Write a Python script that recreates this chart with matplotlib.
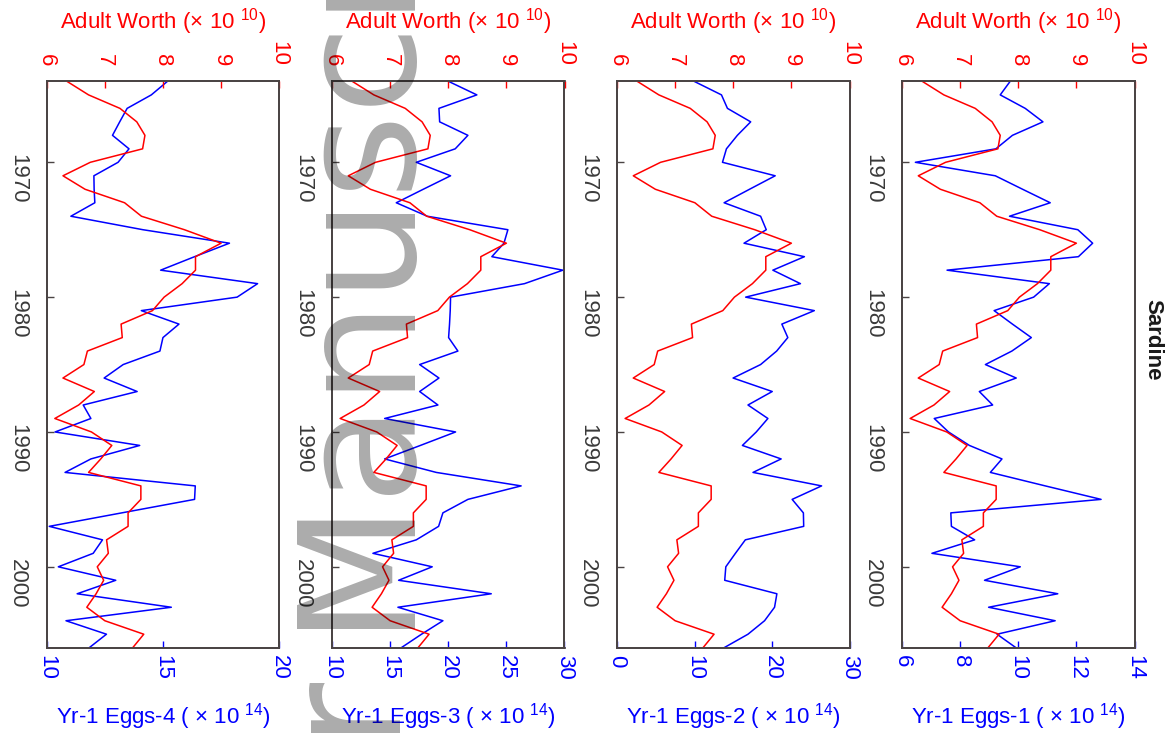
import numpy as np
import matplotlib.pyplot as plt

plt.rcParams['font.family'] = ['Liberation Sans', 'DejaVu Sans']
plt.rcParams['mathtext.fontset'] = 'custom'
plt.rcParams['mathtext.rm'] = 'Liberation Sans'
plt.rcParams['mathtext.it'] = 'Liberation Sans:italic'

years = np.arange(1964, 2007)

# adult stock worth (x 10^10), same series in every panel
adult_worth = [6.35, 6.72, 7.26, 7.55, 7.69, 7.65, 6.75, 6.28, 6.66, 7.34,
               7.63, 8.37, 9.00, 8.56, 8.56, 8.33, 8.02, 7.82, 7.28, 7.30,
               6.70, 6.64, 6.28, 6.82, 6.55, 6.14, 6.77, 7.12, 6.93, 6.72,
               7.62, 7.62, 7.40, 7.40, 7.03, 7.06, 6.87, 6.98, 6.85, 6.69,
               7.00, 7.67, 7.48]

# year-1 egg production (x 10^14) for the four scenarios
eggs_1 = [9.72, 9.38, 10.24, 10.85, 9.80, 9.23, 6.46, 9.21, 10.15, 11.10,
          9.70, 12.05, 12.56, 12.07, 7.55, 11.07, 10.53, 9.17, 9.80, 10.45,
          9.78, 8.87, 9.93, 8.66, 9.12, 7.11, 7.60, 8.32, 9.44, 9.04,
          10.93, 12.85, 7.68, 7.70, 8.50, 7.03, 10.07, 8.84, 11.36, 8.98,
          11.27, 9.27, 9.92]
eggs_2 = [9.97, 13.48, 14.25, 17.25, 15.53, 14.12, 13.61, 20.41, 17.1, 13.82,
          18.53, 19.26, 16.39, 24.18, 20.11, 23.67, 16.60, 25.46, 21.27, 22.04,
          20.6, 18.53, 14.98, 20.03, 16.9, 19.47, 17.97, 16.18, 21.18, 17.55,
          26.4, 22.6, 24.05, 24.09, 16.56, 15.28, 14.04, 13.9, 20.63, 20.33,
          19.04, 16.9, 13.82]
eggs_3 = [20.03, 22.46, 19.2, 19.26, 21.69, 20.6, 17.25, 20.2, 17.85, 15.53,
          18.19, 25.13, 24.79, 23.75, 29.86, 26.56, 20.2, 20.17, 20.11, 20.03,
          20.83, 17.54, 19.2, 17.54, 19.11, 14.53, 20.63, 17.6, 14.53, 18.97,
          26.27, 21.69, 19.54, 19.17, 17.25, 13.52, 18.62, 15.73, 23.7, 15.67,
          19.54, 17.7, 15.96]
eggs_4 = [15.19, 14.5, 13.46, 13.14, 12.83, 13.54, 13.07, 12.03, 12.04, 12.07,
          11.04, 14.14, 17.86, 16.36, 14.9, 19.07, 18.19, 14.07, 15.69, 15.0,
          14.87, 13.29, 12.47, 13.89, 11.57, 11.9, 10.36, 14.0, 11.9, 10.79,
          16.39, 16.36, 13.23, 10.11, 12.4, 12.0, 10.5, 12.97, 11.31, 15.36,
          10.83, 12.57, 11.83]

egg_labels = ['Yr-1 Eggs-1', 'Yr-1 Eggs-2', 'Yr-1 Eggs-3', 'Yr-1 Eggs-4']
egg_series = [eggs_1, eggs_2, eggs_3, eggs_4]
egg_limits = [(6, 14), (0, 30), (10, 30), (10, 20)]
egg_ticks = [[6, 8, 10, 12, 14], [0, 10, 20, 30], [10, 15, 20, 25, 30], [10, 15, 20]]
worth_ticks = [6, 7, 8, 9, 10]
year_ticks = [1970, 1980, 1990, 2000]

W, H = 1170, 733
fig = plt.figure(figsize=(W / 100, H / 100), dpi=100)

panel_left = [902, 617, 332, 46.7]
box_w, box_h, box_bottom = 232.5, 566.3, 85.3
spine_col = '#4a4444'
fs = 16

for i in range(4):
    ax = fig.add_axes([panel_left[i] / W, box_bottom / H, box_w / W, box_h / H])
    ax.plot(egg_series[i], years, color='#0000ff', lw=1.1)
    ax.set_xlim(*egg_limits[i])
    ax.set_xticks(egg_ticks[i])
    ax.set_ylim(2006, 1964)
    ax.set_yticks(year_ticks)
    ax.tick_params(axis='y', direction='in', length=5, width=1, color=spine_col,
                   labelcolor='#3a3a3a', labelsize=fs, pad=13.5, labelrotation=-90)
    ax.tick_params(axis='x', direction='in', length=5, width=1, color='#0000ff',
                   labelcolor='#0000ff', labelsize=fs, pad=5, labelrotation=-90)
    ax.set_xlabel(egg_labels[i] + ' ( \u00d7 10 $^{14}$)', color='#0000ff', fontsize=fs)
    ax.xaxis.set_label_coords(0.5, -0.094)

    ax2 = ax.twiny()
    ax2.plot(adult_worth, years, color='#ff0000', lw=1.1)
    ax2.set_xlim(6, 10)
    ax2.set_xticks(worth_ticks)
    ax2.tick_params(axis='x', direction='in', length=5, width=1, color='#ff0000',
                    labelcolor='#ff0000', labelsize=fs, pad=11, labelrotation=-90)
    ax2.set_xlabel('Adult Worth (\u00d7 10 $^{10}$)', color='#ff0000', fontsize=fs)
    ax2.xaxis.set_label_coords(0.5, 1.094)

    for a in (ax, ax2):
        for sp in a.spines.values():
            sp.set_color(spine_col)
            sp.set_linewidth(1.3)

fig.text(1153 / W, 1 - 340 / H, 'Sardine', rotation=-90, fontsize=16,
         fontweight='bold', ha='center', va='center', color='#1a1a1a')

# vertical watermark across the third panel
wm = dict(rotation=90, rotation_mode='anchor', va='baseline', fontsize=117,
          color='black', alpha=0.33, family='DejaVu Sans')
fig.text(400 / W, 1 - 628 / H, 'Manuscript', ha='left', **wm)
fig.text(400 / W, 1 - 680 / H, 'Author', ha='right', **wm)

fig.savefig('out.png', dpi=100)
